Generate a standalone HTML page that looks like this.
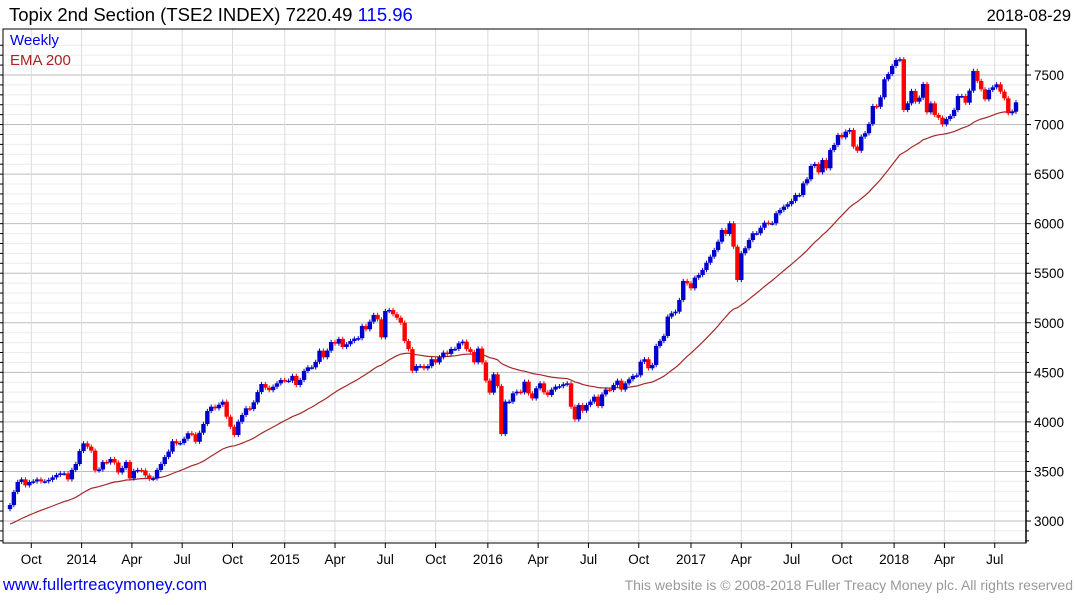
<!DOCTYPE html>
<html><head><meta charset="utf-8">
<style>
body{margin:0;background:#fff;width:1075px;height:600px;overflow:hidden;font-family:"Liberation Sans",sans-serif;}
svg text{font-family:"Liberation Sans",sans-serif;}
</style></head>
<body>
<svg id="chart" width="1075" height="600" xmlns="http://www.w3.org/2000/svg">
<g id="grid"></g>
<g id="ema"></g>
<g id="candles"></g>
<g id="axes"></g>
<text x="9" y="21" font-size="18.5" fill="#000">Topix 2nd Section (TSE2 INDEX) 7220.49 <tspan fill="#0000ff">115.96</tspan></text>
<text x="1071" y="21" font-size="16.5" text-anchor="end" fill="#000">2018-08-29</text>
<text x="10" y="45" font-size="15" fill="#0000ee">Weekly</text>
<text x="10" y="65" font-size="15" fill="#aa2222">EMA 200</text>
<text x="3" y="590" font-size="16.5" fill="#0000ee">www.fullertreacymoney.com</text>
<text x="1073" y="590" font-size="14" text-anchor="end" fill="#999">This website is © 2008-2018 Fuller Treacy Money plc. All rights reserved</text>
</svg>
<script>
const closes = [3161,3293,3394,3420,3360,3394,3400,3420,3400,3400,3415,3440,3465,3480,3480,3420,3515,3575,3706,3783,3750,3710,3510,3520,3595,3590,3625,3590,3490,3535,3595,3430,3505,3515,3510,3460,3425,3430,3515,3575,3645,3700,3805,3783,
3787,3830,3885,3875,3800,3890,3979,4110,4153,4137,4173,4204,4052,3951,3868,4002,4070,4137,4130,4197,4301,4382,4345,4320,4355,4389,4423,4416,4416,4464,4372,4423,4514,4550,4550,4605,4719,4652,4719,4806,4790,4837,4756,4783,4816,
4840,4845,4968,4934,5011,5079,5035,4853,5119,5129,5086,5051,5001,4816,4734,4516,4563,4563,4540,4563,4632,4600,4652,4699,4686,4736,4736,4793,4810,4734,4706,4601,4740,4601,4416,4295,4480,4362,3878,4204,4204,4288,4305,4298,4405,4288,4237,4339,4389,4298,4271,4326,4355,4360,4379,4389,4153,4026,4170,4113,4170,4204,4254,4160,4277,4326,4322,4372,4416,4326,4389,4430,4464,4470,
4607,4632,4541,4574,4766,4816,4867,5062,5096,5112,5230,5422,5398,5348,5455,5482,5533,5606,5667,5734,5818,5936,5896,6004,5768,5432,5701,5752,5835,5903,5903,5959,6010,6004,6004,6105,6138,6171,6196,6229,6289,6289,6407,6448,6582,6602,6518,6642,6559,6743,6794,6895,6871,6928,6945,6777,6736,6878,6912,7006,7187,7180,7275,7457,7510,7591,7651,7659,7147,7214,7339,7231,7271,7409,7124,7214,7097,7069,7003,7056,7086,7147,7288,7288,7221,7342,7541,7440,7356,7255,7349,7376,7406,7332,7265,7114,7130,7224];
const firstOpen = 3120;
const wick = 22;
const emaSeed = 2960;
const emaPeriod = 40;
const yTicks = [3000,3500,4000,4500,5000,5500,6000,6500,7000,7500];
const xLabels = ["Oct","2014","Apr","Jul","Oct","2015","Apr","Jul","Oct","2016","Apr","Jul","Oct","2017","Apr","Jul","Oct","2018","Apr","Jul"];
const xLabelWeeks = [5.5,18.5,31.5,44.5,57.5,71,84,97,110,123.5,136.5,149.5,162.5,176,189,202,215,228.5,241.5,254.5];

const L=3,R=1026,T=29,B=543;
const X0=10,X1=1016;
const NS='http://www.w3.org/2000/svg';
function x(i){return X0+i*(X1-X0)/(closes.length-1);}
function y(v){return 521-(v-3000)*(446/4500);}
function mk(tag,attrs,parent){const e=document.createElementNS(NS,tag);for(const k in attrs)e.setAttribute(k,attrs[k]);parent.appendChild(e);return e;}
const grid=document.getElementById('grid'),axes=document.getElementById('axes'),cg=document.getElementById('candles'),eg=document.getElementById('ema');
mk('rect',{x:L,y:T,width:R-L,height:B-T,fill:'#fff'},grid);
for(let v=2800;v<=7800;v+=100){const yy=y(v);if(yy<T||yy>B)continue;
 const major=v%500===0;
 const ln=mk('line',{x1:L,x2:R,y1:yy,y2:yy,stroke:major?'#bdbdbd':'#ececec','stroke-width':1},grid);
 
 
 const tk=mk('line',{x1:R,x2:R+(major?5:3),y1:yy,y2:yy,stroke:'#000','stroke-width':1},axes);
 
 
 mk('line',{x1:0,x2:L,y1:yy,y2:yy,stroke:'#000','stroke-width':1},axes);
}
yTicks.forEach(v=>{const t=mk('text',{x:R+8,y:y(v)+5,'font-size':13.5,fill:'#000'},axes);t.textContent=v;
 
 });
xLabels.forEach((lab,k)=>{const xx=x(xLabelWeeks[k]);
 const g=mk('line',{x1:xx,x2:xx,y1:T,y2:B,stroke:'#dcdcdc','stroke-width':1},grid);
 
 
 mk('line',{x1:xx,x2:xx,y1:B,y2:B+5,stroke:'#000'},axes);
 const t=mk('text',{x:xx,y:564,'font-size':13.5,'text-anchor':'middle',fill:'#000'},axes);t.textContent=lab;
 
 });
mk('rect',{x:L,y:T,width:R-L,height:B-T,fill:'none',stroke:'#000','stroke-width':1},axes);
mk('line',{x1:R,x2:R,y1:T,y2:B,stroke:'#000','stroke-width':1.5},axes);
let e=emaSeed,pts=[];const a=2/(emaPeriod+1);
closes.forEach((c,i)=>{e=e+a*(c-e);pts.push(x(i).toFixed(1)+','+y(e).toFixed(1));});
const pl=mk('polyline',{points:pts.join(' '),fill:'none',stroke:'#a52a2a','stroke-width':1.2},eg);


closes.forEach((c,i)=>{const o=i===0?firstOpen:closes[i-1];const up=c>=o;const col=up?'#0000cc':'#ff0000';
 const hi=Math.max(o,c)+wick,lo=Math.min(o,c)-wick;const xx=x(i);
 const w=mk('line',{x1:xx,x2:xx,y1:y(hi),y2:y(lo),stroke:col,'stroke-width':1},cg);
 
 
 const top=y(Math.max(o,c)),h=Math.max(1.5,y(Math.min(o,c))-top);
 const r=mk('rect',{x:xx-2.2,y:top,width:4.4,height:h,fill:col},cg);
 
 });
</script>
</body></html>
